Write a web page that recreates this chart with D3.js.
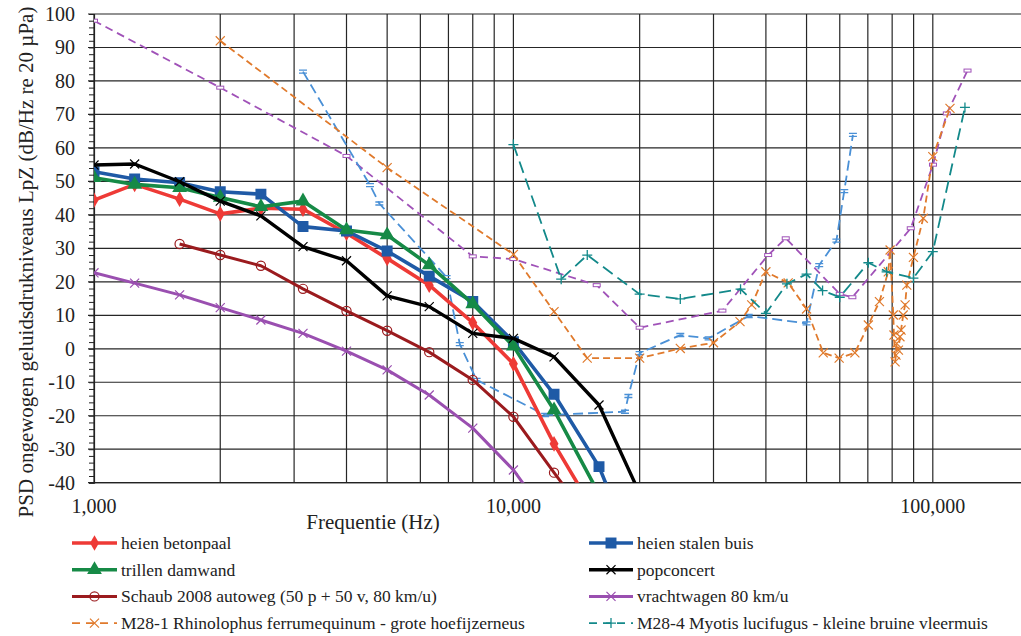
<!DOCTYPE html>
<html>
<head>
<meta charset="utf-8">
<script src="https://cdn.jsdelivr.net/npm/d3@7"></script>
<style>
  html, body { margin: 0; padding: 0; background: #fff; }
</style>
</head>
<body>
<svg id="chart" width="1021" height="636"></svg>
<script>
// 1/3-octave band centre frequencies (Hz)
const bands = [1000, 1250, 1600, 2000, 2500, 3150, 4000, 5000, 6300, 8000, 10000, 12500, 16000, 20000];

// Power spectral densities per source, dB/Hz re 20 µPa
const heienBetonpaal   = [44.4, 49.1, 44.7, 40.3, 42.0, 41.7, 34.5, 27.0, 19.0, 7.8, -4.5, -28.4, -51.0];
const heienStalenBuis  = [52.9, 50.7, 49.6, 46.9, 46.2, 36.5, 35.2, 29.2, 21.7, 14.1, 2.1, -13.6, -35.2, -65.0];
const trillenDamwand   = [51.1, 49.1, 48.1, 45.2, 42.4, 44.1, 35.5, 34.0, 25.0, 13.4, 0.8, -18.3, -43.4];
const popconcert       = [54.9, 55.2, 49.9, 44.1, 39.7, 30.5, 26.3, 15.8, 12.6, 4.6, 3.1, -2.4, -16.8, -43.2];
const schaubBands      = [1600, 2000, 2500, 3150, 4000, 5000, 6300, 8000, 10000, 12500, 16000];
const schaubAutoweg    = [31.3, 28.0, 24.8, 17.9, 11.3, 5.4, -1.0, -9.3, -20.3, -37.0, -55.0];
const vrachtwagen      = [22.7, 19.6, 16.1, 12.3, 8.6, 4.6, -0.7, -6.3, -13.8, -23.7, -36.2, -53.0];

// Bat call spectra: frequency (Hz) and level
const m28_1Freq = [2000, 5000, 10000, 12500, 15000, 20000, 25000, 30000, 34700, 37000, 40000, 45200, 50000, 54800, 59800, 65200, 70200, 74600, 78300, 79100, 80500, 80800, 81300, 81700, 82000, 82800, 83500, 84000, 85000, 85900, 86700, 89900, 94900, 100000, 109900];
const m28_1Val  = [92.0, 54.1, 28.2, 11.1, -2.8, -2.8, 0.1, 1.8, 8.1, 13.1, 23.0, 19.7, 11.9, -1.2, -2.8, -1.2, 7.1, 14.1, 23.0, 29.5, 10.1, 4.1, -3.9, -1.9, 1.6, -0.4, 3.6, 5.6, 10.1, 13.1, 19.0, 27.3, 39.0, 57.4, 71.8];
const m28_4Freq = [10000, 13000, 15000, 20000, 25000, 34800, 40000, 44900, 50000, 54600, 60000, 70200, 77600, 89900, 100000, 119300];
const m28_4Val  = [61.0, 20.8, 28.0, 16.3, 14.9, 17.8, 10.6, 19.4, 22.3, 17.4, 15.4, 25.7, 23.0, 21.1, 29.0, 72.1];
const batAFreq  = [3150, 4550, 4790, 6930, 7450, 8170, 11900, 18450, 18800, 20000, 25000, 29200, 36400, 50000, 53600, 58900, 61500, 64500];
const batAVal   = [82.8, 48.9, 43.4, 21.4, 1.4, -9.3, -19.8, -18.8, -14.1, -1.3, 4.1, 3.1, 9.8, 7.6, 25.0, 32.3, 47.1, 63.9];
const batBFreq  = [1000, 2000, 4000, 8000, 10000, 15800, 20000, 31500, 40500, 44600, 60000, 64300, 88600, 100100, 108000, 121000];
const batBVal   = [98.0, 78.0, 57.6, 27.6, 26.8, 19.0, 6.3, 11.4, 28.0, 33.0, 16.4, 15.4, 36.0, 55.0, 70.3, 83.1];

const yTicks = d3.range(-40, 101, 10);
const xLabelTicks = [1000, 10000, 100000];
const xTickFormat = d3.format(",");
const FONT = "'Liberation Serif', 'Times New Roman', serif";

const zip = (fs, vs) => vs.map((v, i) => ({ f: fs[i], v }));

const series = [
  { name: "heien betonpaal", data: zip(bands, heienBetonpaal), color: "#ee3a36", width: 3.6, marker: "diamond", legend: [0, 0] },
  { name: "heien stalen buis", data: zip(bands, heienStalenBuis), color: "#1f5aa6", width: 3.6, marker: "square", legend: [1, 0] },
  { name: "trillen damwand", data: zip(bands, trillenDamwand), color: "#168a46", width: 3.6, marker: "triangle", legend: [0, 1] },
  { name: "popconcert", data: zip(bands, popconcert), color: "#000000", width: 3.4, marker: "x", legend: [1, 1] },
  { name: "Schaub 2008 autoweg (50 p + 50 v, 80 km/u)", data: zip(schaubBands, schaubAutoweg), color: "#9b1b1e", width: 3, marker: "circle", legend: [0, 2] },
  { name: "vrachtwagen 80 km/u", data: zip(bands, vrachtwagen), color: "#9a4fb0", width: 3, marker: "x", legend: [1, 2] },
  { name: "batB", data: zip(batBFreq, batBVal), color: "#a052b8", width: 1.8, dash: "8,5", marker: "bar" },
  { name: "batA", data: zip(batAFreq, batAVal), color: "#4a90d6", width: 1.8, dash: "10,5", marker: "ibeam" },
  { name: "M28-1 Rhinolophus ferrumequinum - grote hoefijzerneus", data: zip(m28_1Freq, m28_1Val), color: "#e07a2c", width: 1.8, dash: "7,4", marker: "x", legend: [0, 3] },
  { name: "M28-4 Myotis lucifugus - kleine bruine vleermuis", data: zip(m28_4Freq, m28_4Val), color: "#13898a", width: 1.8, dash: "12,6", marker: "plus", legend: [1, 3] }
];

const svg = d3.select("#chart");
const plot = { left: 94, top: 14, right: 1021, bottom: 482.7 };
const decadePx = 419.4;
const xMax = 1000 * Math.pow(10, (plot.right - plot.left) / decadePx);

const x = d3.scaleLog().domain([1000, xMax]).range([plot.left, plot.right]);
const y = d3.scaleLinear().domain([-40, 100]).range([plot.bottom, plot.top]);

// Vertical grid: 1..9 per decade
const xGrid = [];
for (let d = 1000; d <= 100000; d *= 10) for (let k = 1; k <= 9; k++) if (d * k <= xMax) xGrid.push(d * k);

const grid = svg.append("g").attr("stroke", "#262626").attr("stroke-width", 1.2);
grid.selectAll("line.v").data(xGrid).join("line")
  .attr("x1", d => x(d)).attr("x2", d => x(d))
  .attr("y1", plot.top).attr("y2", plot.bottom);
grid.selectAll("line.h").data(yTicks).join("line")
  .attr("x1", plot.left - 6).attr("x2", plot.right)
  .attr("y1", d => y(d)).attr("y2", d => y(d));

// Y axis with minor ticks every 2 units
const yAxis = svg.append("g").attr("transform", `translate(${plot.left},0)`)
  .call(d3.axisLeft(y).tickValues(d3.range(-40, 101, 2)).tickSize(5).tickFormat(""));
yAxis.select(".domain").attr("stroke", "#222").attr("stroke-width", 1.2);
yAxis.selectAll(".tick line").attr("stroke", "#222");

svg.append("line").attr("x1", plot.left).attr("x2", plot.right)
  .attr("y1", plot.bottom).attr("y2", plot.bottom).attr("stroke", "#222").attr("stroke-width", 1.2);

// Tick labels
svg.append("g").selectAll("text").data(yTicks).join("text")
  .attr("x", 75).attr("y", d => y(d)).attr("dy", "0.34em")
  .attr("text-anchor", "end").style("font-family", FONT).style("font-size", "20px").attr("fill", "#222")
  .text(d => d);
svg.append("g").selectAll("text").data(xLabelTicks).join("text")
  .attr("x", d => x(d)).attr("y", 513)
  .attr("text-anchor", "middle").style("font-family", FONT).style("font-size", "20px").attr("fill", "#222")
  .text(d => xTickFormat(d));

// Axis titles
svg.append("text").attr("x", 373).attr("y", 529).attr("text-anchor", "middle")
  .style("font-family", FONT).style("font-size", "21px").attr("fill", "#222").text("Frequentie (Hz)");
svg.append("text").attr("transform", "translate(33,262) rotate(-90)").attr("text-anchor", "middle")
  .style("font-family", FONT).style("font-size", "21px").attr("fill", "#222")
  .text("PSD ongewogen geluidsdrukniveaus LpZ (dB/Hz re 20 µPa)");

// Clip region for plotted series
svg.append("clipPath").attr("id", "plotClip").append("rect")
  .attr("x", plot.left).attr("y", plot.top - 8)
  .attr("width", plot.right - plot.left).attr("height", plot.bottom - plot.top + 8);

function drawMarker(g, type, color, cx, cy) {
  const sym = (t, size) => g.append("path")
    .attr("d", d3.symbol().type(t).size(size)())
    .attr("transform", `translate(${cx},${cy})`);
  switch (type) {
    case "diamond": sym(d3.symbolDiamond, 70).attr("fill", color); break;
    case "square": sym(d3.symbolSquare, 120).attr("fill", color); break;
    case "triangle": sym(d3.symbolTriangle, 95).attr("fill", color); break;
    case "circle":
      g.append("circle").attr("cx", cx).attr("cy", cy).attr("r", 4.6)
        .attr("fill", "none").attr("stroke", color).attr("stroke-width", 1.2);
      break;
    case "x":
      sym(d3.symbolTimes, 55).attr("fill", "none").attr("stroke", color).attr("stroke-width", 1.2);
      break;
    case "plus":
      g.append("path").attr("d", `M${cx - 5},${cy}H${cx + 5}M${cx},${cy - 5}V${cy + 5}`)
        .attr("stroke", color).attr("stroke-width", 1.3).attr("fill", "none");
      break;
    case "bar":
      g.append("rect").attr("x", cx - 3.5).attr("y", cy - 1.5).attr("width", 7).attr("height", 3)
        .attr("fill", "#fff").attr("stroke", color).attr("stroke-width", 1);
      break;
    case "ibeam":
      g.append("path").attr("d", `M${cx - 4},${cy - 1.5}H${cx + 4}M${cx - 4},${cy + 1.5}H${cx + 4}`)
        .attr("stroke", color).attr("stroke-width", 1.4).attr("fill", "none");
      break;
  }
}

const lineGen = d3.line().x(d => x(d.f)).y(d => y(d.v));
const plotG = svg.append("g").attr("clip-path", "url(#plotClip)");
// dashed spectra underneath, measured sources on top
const drawOrder = [6, 7, 8, 9, 5, 4, 0, 1, 2, 3];
drawOrder.forEach(i => {
  const s = series[i];
  const g = plotG.append("g");
  g.append("path").datum(s.data).attr("d", lineGen)
    .attr("fill", "none").attr("stroke", s.color).attr("stroke-width", s.width)
    .attr("stroke-dasharray", s.dash || null).attr("stroke-linejoin", "round");
  s.data.forEach(d => {
    if (d.v >= -40) drawMarker(g, s.marker, s.color, x(d.f), y(d.v));
  });
});

// Legend
const legendCols = [{ lx: 72, tx: 121 }, { lx: 589, tx: 637 }];
const legendRow0 = 549, legendStep = 26.7;
series.filter(s => s.legend).forEach(s => {
  const [c, r] = s.legend;
  const col = legendCols[c];
  const by = legendRow0 + r * legendStep;
  const ly = by - 6;
  const g = svg.append("g");
  g.append("line").attr("x1", col.lx).attr("x2", col.tx - 4).attr("y1", ly).attr("y2", ly)
    .attr("stroke", s.color).attr("stroke-width", s.width)
    .attr("stroke-dasharray", s.dash ? "8,6" : null);
  drawMarker(g, s.marker, s.color, (col.lx + col.tx - 4) / 2, ly);
  g.append("text").attr("x", col.tx).attr("y", by)
    .style("font-family", FONT).style("font-size", "17.5px").attr("fill", "#222").text(s.name);
});
</script>
</body>
</html>
